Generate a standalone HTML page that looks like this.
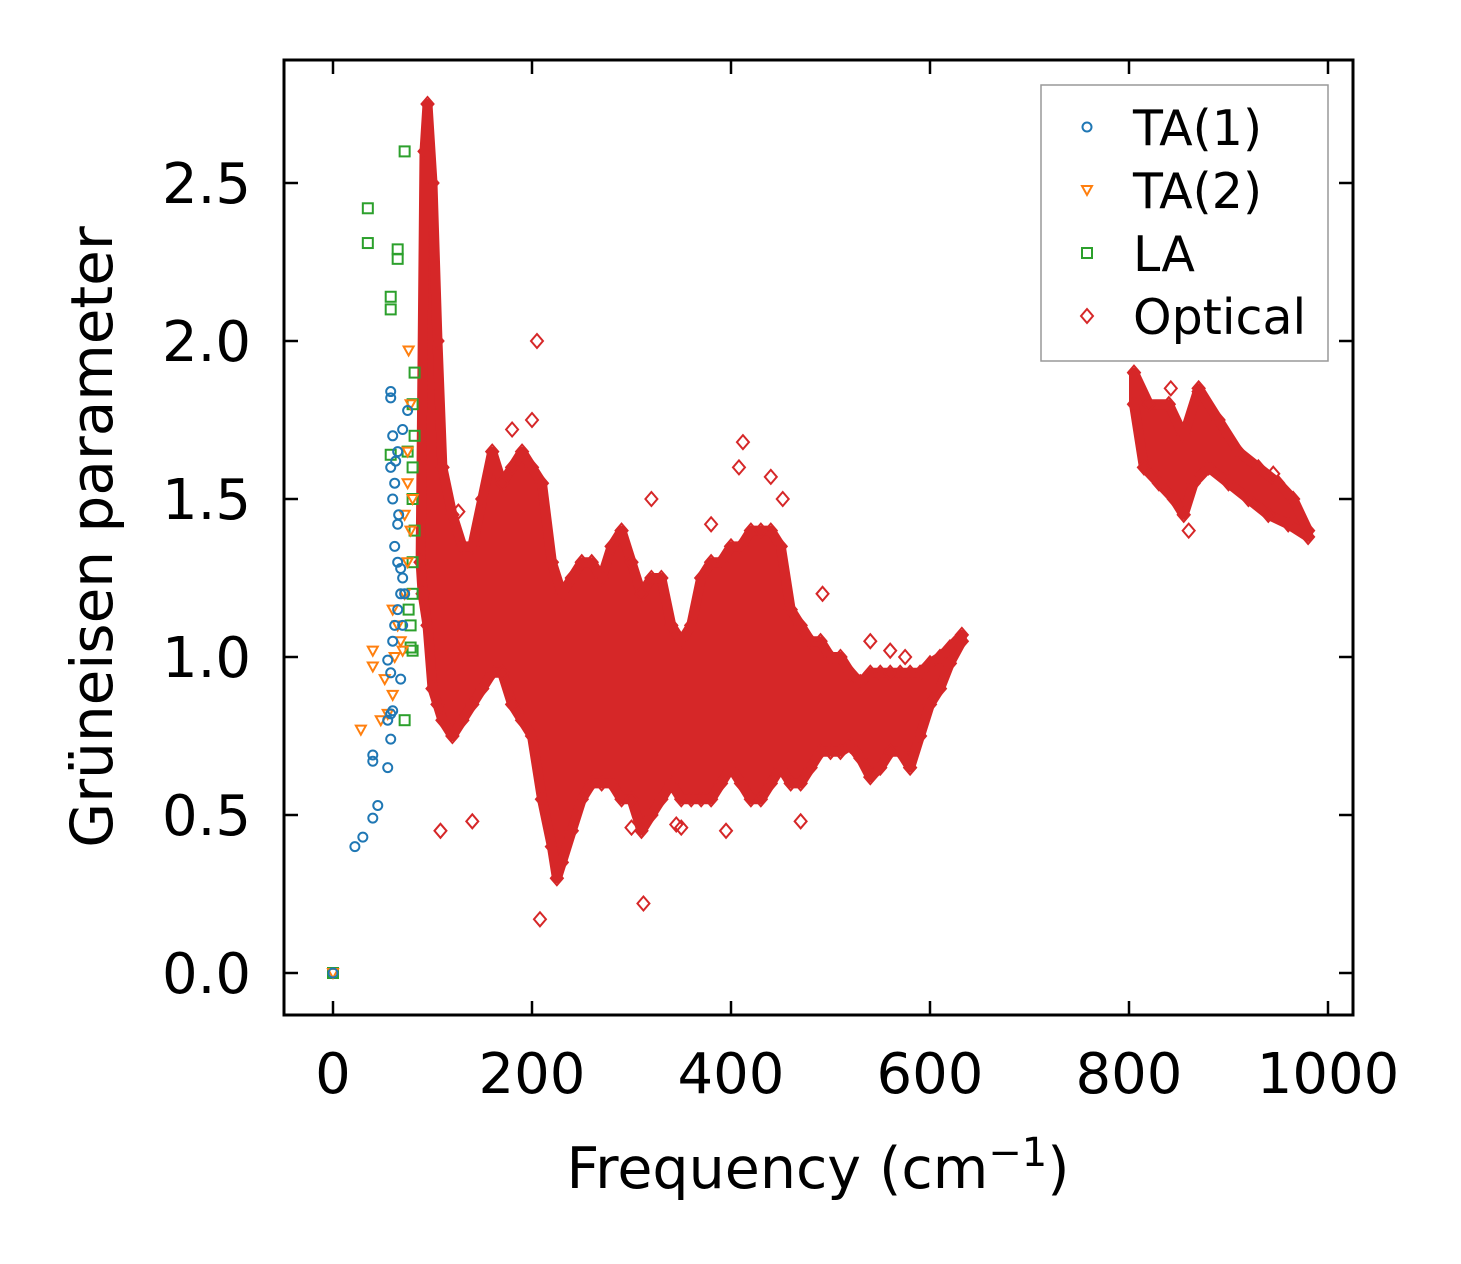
<!DOCTYPE html>
<html><head><meta charset="utf-8">
<style>
html,body{margin:0;padding:0;background:#fff;}
svg{display:block;font-family:"DejaVu Sans","Liberation Sans",sans-serif;}
</style></head>
<body>
<svg id="chart" width="1461" height="1264" viewBox="0 0 1461 1264" xmlns="http://www.w3.org/2000/svg">
<rect width="1461" height="1264" fill="#fff"/>
<g id="plot"></g>
<g id="axes"></g>
<text x="818" y="1188" text-anchor="middle" font-size="57">Frequency (cm<tspan dy="-22" font-size="40">−1</tspan><tspan dy="22">)</tspan></text>
<text transform="translate(112,537) rotate(-90)" text-anchor="middle" font-size="58">Grüneisen parameter</text>
<g>
<rect x="1041" y="85" width="287" height="276" fill="#fff" fill-opacity="0.8" stroke="#999" stroke-width="1.5"/>
<circle cx="1087" cy="127" r="4.5" fill="none" stroke="#1f77b4" stroke-width="2"/>
<text x="1133" y="145" font-size="49">TA(1)</text>
<path d="M1082,186L1092,186L1087,195Z" fill="none" stroke="#ff7f0e" stroke-width="2"/>
<text x="1133" y="208" font-size="49">TA(2)</text>
<rect x="1082" y="248" width="10" height="10" fill="none" stroke="#2ca02c" stroke-width="2"/>
<text x="1133" y="271" font-size="49">LA</text>
<path d="M1087,309L1093,316L1087,323L1081,316Z" fill="none" stroke="#d62728" stroke-width="2"/>
<text x="1133" y="334" font-size="49">Optical</text>
</g>
</svg>
<script>
const xTicks=[0,200,400,600,800,1000];
const yTicks=[0.0,0.5,1.0,1.5,2.0,2.5];
const yTickLabels=["0.0","0.5","1.0","1.5","2.0","2.5"];
const opticalUpper=[[88,1.3],[92,2.6],[95,2.75],[100,2.5],[105,2.0],[110,1.6],[120,1.45],[130,1.35],[140,1.35],[150,1.5],[160,1.65],[170,1.55],[180,1.6],[190,1.65],[200,1.6],[210,1.55],[220,1.3],[230,1.2],[240,1.25],[250,1.3],[260,1.3],[270,1.25],[280,1.35],[290,1.4],[300,1.3],[310,1.2],[320,1.25],[330,1.25],[340,1.1],[350,1.05],[360,1.1],[370,1.25],[380,1.3],[390,1.3],[400,1.35],[410,1.35],[420,1.4],[430,1.4],[440,1.4],[450,1.35],[460,1.15],[470,1.1],[480,1.05],[490,1.05],[500,1.0],[510,1.0],[520,0.95],[530,0.92],[540,0.95],[550,0.95],[560,0.95],[570,0.95],[580,0.95],[590,0.95],[600,0.98],[610,1.0],[620,1.03],[632,1.07]];
const opticalLower=[[632,1.05],[620,0.98],[610,0.9],[600,0.85],[590,0.75],[580,0.65],[570,0.7],[560,0.7],[550,0.65],[540,0.62],[530,0.68],[520,0.72],[510,0.7],[500,0.7],[490,0.7],[480,0.65],[470,0.6],[460,0.6],[450,0.65],[440,0.6],[430,0.55],[420,0.55],[410,0.6],[400,0.65],[390,0.6],[380,0.55],[370,0.55],[360,0.55],[350,0.55],[340,0.6],[330,0.55],[320,0.5],[310,0.45],[300,0.55],[290,0.55],[280,0.6],[270,0.6],[260,0.6],[250,0.55],[240,0.45],[230,0.35],[225,0.3],[220,0.4],[210,0.55],[200,0.75],[190,0.8],[180,0.85],[170,0.95],[160,0.95],[150,0.9],[140,0.85],[130,0.8],[120,0.75],[110,0.8],[105,0.85],[100,0.9],[95,1.1],[90,1.2]];
const highUpper=[[805,1.9],[820,1.8],[840,1.8],[855,1.7],[870,1.85],[890,1.75],[910,1.65],[930,1.6],[950,1.55],[965,1.5],[980,1.4]];
const highLower=[[980,1.38],[960,1.42],[940,1.45],[920,1.5],[900,1.55],[880,1.6],[865,1.55],[855,1.45],[845,1.5],[830,1.55],[815,1.6],[805,1.8]];
const opticalOutliers=[[205,2.0],[200,1.75],[208,0.17],[312,0.22],[412,1.68],[408,1.6],[440,1.57],[452,1.5],[320,1.5],[126,1.46],[395,0.45],[108,0.45],[350,0.46],[492,1.2],[540,1.05],[560,1.02],[575,1.0],[470,0.48],[860,1.4],[945,1.58],[842,1.85],[870,1.84],[345,0.47],[140,0.48],[180,1.72],[380,1.42],[300,0.46]];
const ta1=[[0,0],[22,0.4],[30,0.43],[40,0.49],[45,0.53],[40,0.67],[40,0.69],[55,0.65],[58,0.74],[55,0.8],[58,0.82],[60,0.83],[55,0.99],[58,0.95],[68,0.93],[60,1.05],[62,1.1],[65,1.15],[68,1.2],[70,1.25],[65,1.3],[62,1.35],[65,1.42],[60,1.5],[62,1.55],[58,1.6],[65,1.65],[60,1.7],[70,1.72],[58,1.82],[58,1.84],[75,1.78],[70,1.1],[72,1.2],[68,1.28],[66,1.45],[63,1.62]];
const ta2=[[0,0],[28,0.77],[40,1.02],[40,0.97],[52,0.93],[48,0.8],[55,0.82],[60,0.88],[62,1.0],[65,1.1],[60,1.15],[68,1.05],[72,1.2],[75,1.3],[78,1.4],[75,1.55],[75,1.65],[78,1.8],[76,1.97],[80,1.5],[70,1.02],[72,1.45]];
const la=[[0,0],[35,2.42],[35,2.31],[72,2.6],[65,2.29],[65,2.26],[58,2.14],[58,2.1],[58,1.64],[72,0.8],[78,1.03],[80,1.02],[80,1.2],[80,1.3],[82,1.4],[80,1.5],[80,1.6],[82,1.7],[80,1.8],[82,1.9],[75,1.65],[78,1.1],[76,1.15]];

const X0=284,X1=1353,Y0=60,Y1=1015;
const xs=v=>333+v*0.995;
const ys=v=>973-316*v;
const NS="http://www.w3.org/2000/svg";
const plot=document.getElementById('plot'),axes=document.getElementById('axes');
function mk(tag,attrs,parent){const e=document.createElementNS(NS,tag);for(const k in attrs)e.setAttribute(k,attrs[k]);parent.appendChild(e);return e;}
const RED="#d62728",BLUE="#1f77b4",ORANGE="#ff7f0e",GREEN="#2ca02c";
function diamond(x,y,p,col){return mk('path',{d:`M${x},${y-7}L${x+6},${y}L${x},${y+7}L${x-6},${y}Z`,fill:'none',stroke:col,'stroke-width':2},p);}
function band(up,lo,name){
  const pts=up.concat(lo).map(p=>xs(p[0]).toFixed(1)+','+ys(p[1]).toFixed(1)).join(' ');
  const pg=mk('polygon',{points:pts,fill:RED,stroke:RED,'stroke-width':10,'stroke-linejoin':'round'},plot);
  
  
  up.concat(lo).forEach(p=>{const d=diamond(xs(p[0]),ys(p[1]),plot,RED);
    
    });
}
band(opticalUpper,opticalLower,'optical-band');
band(highUpper,highLower,'optical-high-band');
opticalOutliers.forEach(p=>{const d=diamond(xs(p[0]),ys(p[1]),plot,RED);
  
  });
la.forEach(p=>{const r=mk('rect',{x:xs(p[0])-5,y:ys(p[1])-5,width:10,height:10,fill:'none',stroke:GREEN,'stroke-width':2},plot);
  
  });
ta2.forEach(p=>{const x=xs(p[0]),y=ys(p[1]);const t=mk('path',{d:`M${x-5},${y-4}L${x+5},${y-4}L${x},${y+5}Z`,fill:'none',stroke:ORANGE,'stroke-width':2},plot);
  
  });
ta1.forEach(p=>{const c=mk('circle',{cx:xs(p[0]),cy:ys(p[1]),r:4.5,fill:'none',stroke:BLUE,'stroke-width':2},plot);
  
  });

const fr=mk('rect',{x:X0,y:Y0,width:X1-X0,height:Y1-Y0,fill:'none',stroke:'#000','stroke-width':3},axes);


xTicks.forEach(v=>{const x=xs(v);
  mk('line',{x1:x,x2:x,y1:Y1,y2:Y1-14,stroke:'#000','stroke-width':2.5},axes);
  mk('line',{x1:x,x2:x,y1:Y0,y2:Y0+14,stroke:'#000','stroke-width':2.5},axes);
  const t=mk('text',{x:x,y:1093,'text-anchor':'middle','font-size':56},axes);t.textContent=v;
  
  });
yTicks.forEach((v,i)=>{const y=ys(v);
  mk('line',{x1:X0,x2:X0+14,y1:y,y2:y,stroke:'#000','stroke-width':2.5},axes);
  mk('line',{x1:X1,x2:X1-14,y1:y,y2:y,stroke:'#000','stroke-width':2.5},axes);
  const t=mk('text',{x:251,y:y+20,'text-anchor':'end','font-size':56},axes);t.textContent=yTickLabels[i];
  
  });
</script>
</body></html>
